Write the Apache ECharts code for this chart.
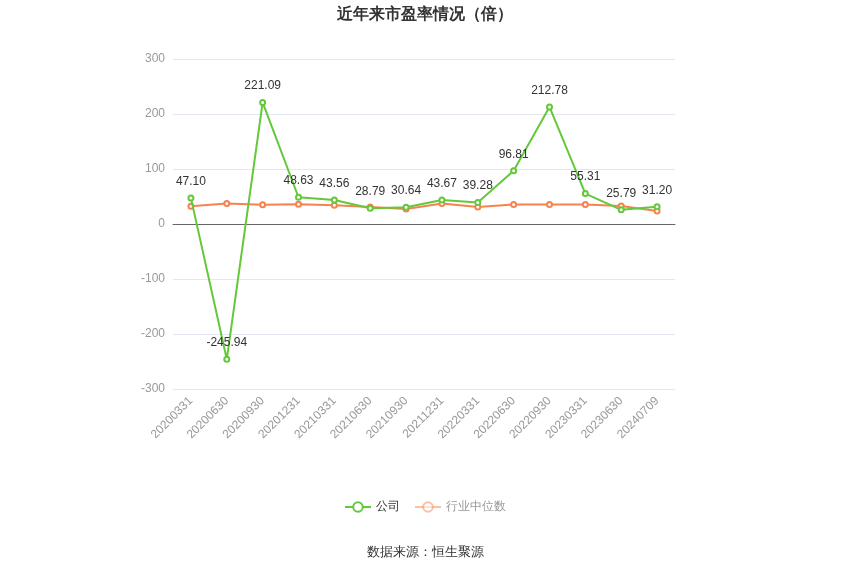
<!DOCTYPE html>
<html>
<head>
<meta charset="utf-8">
<script src="https://cdn.jsdelivr.net/npm/echarts@6/dist/echarts.min.js"></script>
<style>
  html, body { margin: 0; padding: 0; background: #fff; }
  #chart { width: 850px; height: 575px; }
</style>
</head>
<body>
<div id="chart"></div>
<script>
const categories = ['20200331', '20200630', '20200930', '20201231', '20210331', '20210630', '20210930',
    '20211231', '20220331', '20220630', '20220930', '20230331', '20230630', '20240709']
const companyPE = [47.10, -245.94, 221.09, 48.63, 43.56, 28.79, 30.64, 43.67, 39.28, 96.81, 212.78, 55.31, 25.79, 31.20]
const industryPE = [32.3, 37.2, 34.8, 36.0, 34.1, 31.1, 27.4, 37.2, 31.1, 35.4, 35.4, 35.4, 32.9, 23.8]
const yTicks = { min: -300, max: 300, interval: 100 }

const green = '#64c83a'
const orange = '#f6834f'

const myChart = echarts.init(document.getElementById('chart'))

myChart.setOption({
    animation: false,
    title: {
        text: '近年来市盈率情况（倍）',
        left: 'center',
        top: 2,
        textStyle: { fontSize: 16, fontWeight: 'bold', color: '#333' }
    },
    legend: {
        bottom: 57,
        left: 'center',
        itemWidth: 26,
        itemHeight: 12,
        itemGap: 14,
        data: [
            { name: '公司', textStyle: { color: '#333' } },
            { name: '行业中位数', itemStyle: { opacity: 0.5 }, lineStyle: { opacity: 0.5 }, textStyle: { color: '#999' } }
        ]
    },
    graphic: [{
        type: 'text',
        left: 'center',
        top: 546,
        style: { text: '数据来源：恒生聚源', fill: '#333', fontSize: 13 }
    }],
    grid: { left: 173, right: 175, top: 59, bottom: 186 },
    xAxis: {
        type: 'category',
        data: categories,
        boundaryGap: true,
        axisLine: { lineStyle: { color: '#666' } },
        axisTick: { alignWithLabel: true, lineStyle: { color: '#666' } },
        axisLabel: { rotate: 45, color: '#999', fontSize: 12, interval: 0, margin: 10 }
    },
    yAxis: {
        type: 'value',
        min: yTicks.min,
        max: yTicks.max,
        interval: yTicks.interval,
        axisLine: { show: false },
        axisTick: { show: false },
        axisLabel: { color: '#999', fontSize: 12 },
        splitLine: { lineStyle: { color: '#e3e8f0' } }
    },
    series: [
        {
            name: '公司',
            type: 'line',
            data: companyPE,
            symbol: 'circle',
            symbolSize: 5,
            itemStyle: { color: '#fff', borderColor: green, borderWidth: 2 },
            lineStyle: { color: green, width: 2 },
            label: {
                show: true,
                position: 'top',
                distance: 7,
                color: '#333',
                fontSize: 12,
                formatter: (p) => p.value.toFixed(2)
            },
            z: 3
        },
        {
            name: '行业中位数',
            type: 'line',
            data: industryPE,
            symbol: 'circle',
            symbolSize: 5,
            itemStyle: { color: '#fff', borderColor: orange, borderWidth: 2 },
            lineStyle: { color: orange, width: 2 },
            z: 2
        }
    ]
})
</script>
</body>
</html>
